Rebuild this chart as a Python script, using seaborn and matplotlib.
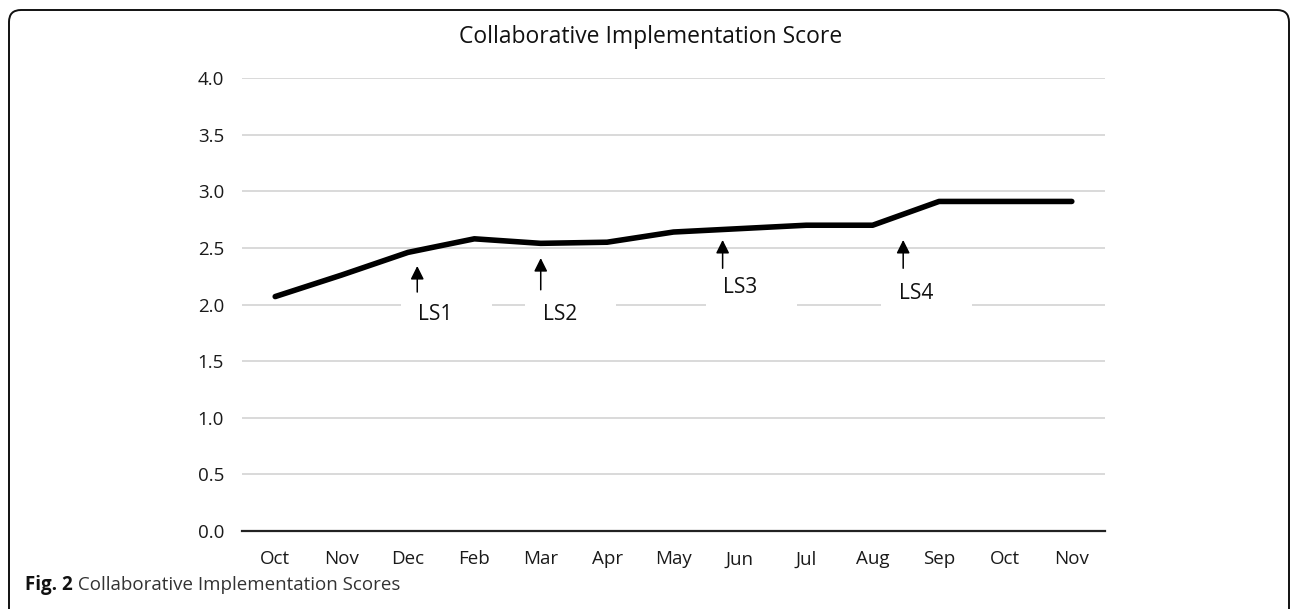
import matplotlib
matplotlib.use("Agg")
import matplotlib.pyplot as plt
import seaborn as sns
import numpy as np
import pandas as pd
from matplotlib.patches import FancyBboxPatch, Rectangle

# ---- data ----
months = ["Oct", "Nov", "Dec", "Feb", "Mar", "Apr", "May", "Jun", "Jul", "Aug", "Sep", "Oct", "Nov"]
scores = [2.07, 2.26, 2.46, 2.58, 2.54, 2.55, 2.64, 2.67, 2.70, 2.70, 2.91, 2.91, 2.91]
y_ticks = [0.0, 0.5, 1.0, 1.5, 2.0, 2.5, 3.0, 3.5, 4.0]

# learning session annotations
ls_labels = ["LS1", "LS2", "LS3", "LS4"]
ls_arrow_x = [2.14, 4.0, 6.74, 9.46]
ls_arrow_tail = [2.11, 2.13, 2.32, 2.32]
ls_arrow_head = [2.34, 2.41, 2.57, 2.57]
ls_text_y = [1.91, 1.91, 2.15, 2.10]

title = "Collaborative Implementation Score"
caption_bold = "Fig. 2"
caption_rest = " Collaborative Implementation Scores"

df = pd.DataFrame({"pos": np.arange(len(months)), "score": scores})

sns.set_theme(style="white")
plt.rcParams["font.family"] = ["Open Sans", "DejaVu Sans"]

fig = plt.figure(figsize=(12.9, 6.09), dpi=100)
ax = fig.add_axes([242 / 1290, 1 - 531 / 609, (1105 - 242) / 1290, (531 - 78) / 609])

sns.lineplot(data=df, x="pos", y="score", ax=ax, color="black", linewidth=4.0,
             zorder=5, solid_capstyle="round", solid_joinstyle="round")

ax.set_xlim(-0.5, len(months) - 0.5)
ax.set_ylim(0, 4.0)
ax.set_yticks(y_ticks)
ax.set_yticklabels([f"{v:.1f}" for v in y_ticks])
ax.set_xticks(np.arange(len(months)))
ax.set_xticklabels(months)
ax.set_xlabel("")
ax.set_ylabel("")
ax.tick_params(axis="both", length=0, labelsize=13.5, colors="#1a1a1a")
ax.tick_params(axis="y", pad=13)
ax.tick_params(axis="x", pad=14)

for v in y_ticks[1:]:
    ax.axhline(v, color="#d9d9d9", linewidth=1.4, zorder=1)

for s in ["top", "right", "left"]:
    ax.spines[s].set_visible(False)
ax.spines["bottom"].set_color("#222222")
ax.spines["bottom"].set_linewidth(1.6)

# annotation boxes, arrows, labels
for lab, ax_x, tail, head, ty in zip(ls_labels, ls_arrow_x, ls_arrow_tail, ls_arrow_head, ls_text_y):
    box_left = ax_x - 0.25 if lab != "LS2" else ax_x - 0.23
    if lab == "LS4":
        box_left = ax_x - 0.33
    ax.add_patch(Rectangle((box_left, ty - 0.17), 1.37, 0.34, facecolor="white",
                           edgecolor="none", zorder=2))
    ax.text(box_left + 0.26, ty, lab, fontsize=15, va="center", ha="left",
            color="#111111", zorder=3)
    ax.annotate("", xy=(ax_x, head), xytext=(ax_x, tail),
                arrowprops=dict(arrowstyle="-|>", color="black", lw=1.1,
                                mutation_scale=20, shrinkA=0, shrinkB=0),
                zorder=4)

fig.text(651 / 1290, 1 - 37 / 609, title, ha="center", va="center", fontsize=16.5,
         color="#111111")

# caption
t1 = fig.text(25 / 1290, 1 - 585 / 609, caption_bold, ha="left", va="center",
              fontsize=13.5, fontweight="bold", color="#111111")
fig.canvas.draw()
bb = t1.get_window_extent()
fig.text(bb.x1 / 1290, 1 - 585 / 609, caption_rest, ha="left", va="center",
         fontsize=13.5, color="#333333")

# rounded frame
frame = FancyBboxPatch((0.09, -0.5), 12.8, 6.49,
                       boxstyle="round,pad=0,rounding_size=0.12",
                       transform=fig.dpi_scale_trans, facecolor="none",
                       edgecolor="#111111", linewidth=1.4, clip_on=False)
fig.add_artist(frame)

fig.savefig("out.png", dpi=100)
